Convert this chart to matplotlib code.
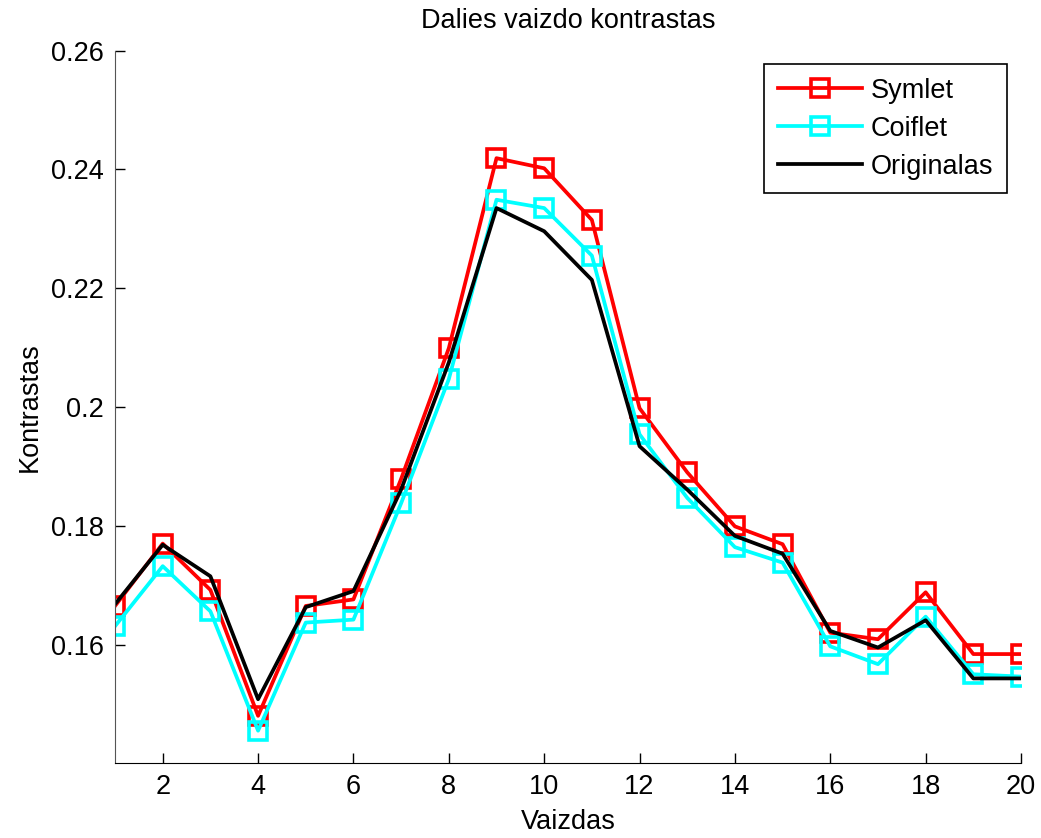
import matplotlib
matplotlib.use("Agg")
import matplotlib.pyplot as plt
from matplotlib.ticker import FuncFormatter

plt.rcParams['font.family'] = ['Liberation Sans', 'DejaVu Sans']

x = list(range(1, 21))
symlet = [0.1665, 0.1770, 0.1692, 0.1480, 0.1665, 0.1676, 0.1879, 0.2099, 0.2419, 0.2402,
          0.2315, 0.1998, 0.1890, 0.1799, 0.1769, 0.1620, 0.1609, 0.1688, 0.1584, 0.1584]
coiflet = [0.1631, 0.1732, 0.1656, 0.1455, 0.1637, 0.1642, 0.1838, 0.2047, 0.2349, 0.2335,
           0.2255, 0.1954, 0.1847, 0.1764, 0.1738, 0.1597, 0.1567, 0.1647, 0.1550, 0.1546]
original = [0.1668, 0.1768, 0.1715, 0.1508, 0.1663, 0.1690, 0.1861, 0.2075, 0.2335, 0.2296,
            0.2214, 0.1934, 0.1861, 0.1783, 0.1753, 0.1623, 0.1595, 0.1641, 0.1543, 0.1543]
labels = ["Symlet", "Coiflet", "Originalas"]
xticks = list(range(2, 21, 2))
yticks = [0.16, 0.18, 0.20, 0.22, 0.24, 0.26]

fs = 19.5
fig = plt.figure(figsize=(10.41, 8.38), dpi=100)
ax = fig.add_axes([0.1105, 0.0891, 0.9808 - 0.1105, 0.9395 - 0.0891])

lw = 2.7
ax.plot(x, symlet, color='red', lw=lw, marker='s', ms=13, mfc='none', mew=2.6, label=labels[0])
ax.plot(x, coiflet, color='cyan', lw=lw, marker='s', ms=13, mfc='none', mew=2.6, label=labels[1])
ax.plot(x, original, color='black', lw=lw, label=labels[2])

ax.set_xlim(1, 20)
ax.set_ylim(0.14, 0.26)
ax.set_xticks(xticks)
ax.set_yticks(yticks)
ax.yaxis.set_major_formatter(FuncFormatter(lambda v, p: f"{v:g}"))
ax.tick_params(direction='in', length=7, width=1, labelsize=fs, pad=8)
for s in ['top', 'right']:
    ax.spines[s].set_visible(False)
ax.spines['left'].set_color('#555555')
ax.spines['bottom'].set_color('black')

ax.set_title("Dalies vaizdo kontrastas", fontsize=fs, pad=16)
ax.set_xlabel("Vaizdas", fontsize=fs, va='center')
ax.set_ylabel("Kontrastas", fontsize=fs, va='center')
ax.xaxis.set_label_coords(0.5, -0.082)
ax.yaxis.set_label_coords(-0.094, 0.5)

leg = ax.legend(loc='upper right', bbox_to_anchor=(0.9846, 0.9813), fontsize=fs,
                frameon=True, fancybox=False, edgecolor='black', framealpha=1,
                borderaxespad=0, handlelength=3.1, handletextpad=0.35, labelspacing=0.45,
                borderpad=0.5)
leg.get_frame().set_linewidth(1.2)

fig.savefig("out.png", dpi=100)
